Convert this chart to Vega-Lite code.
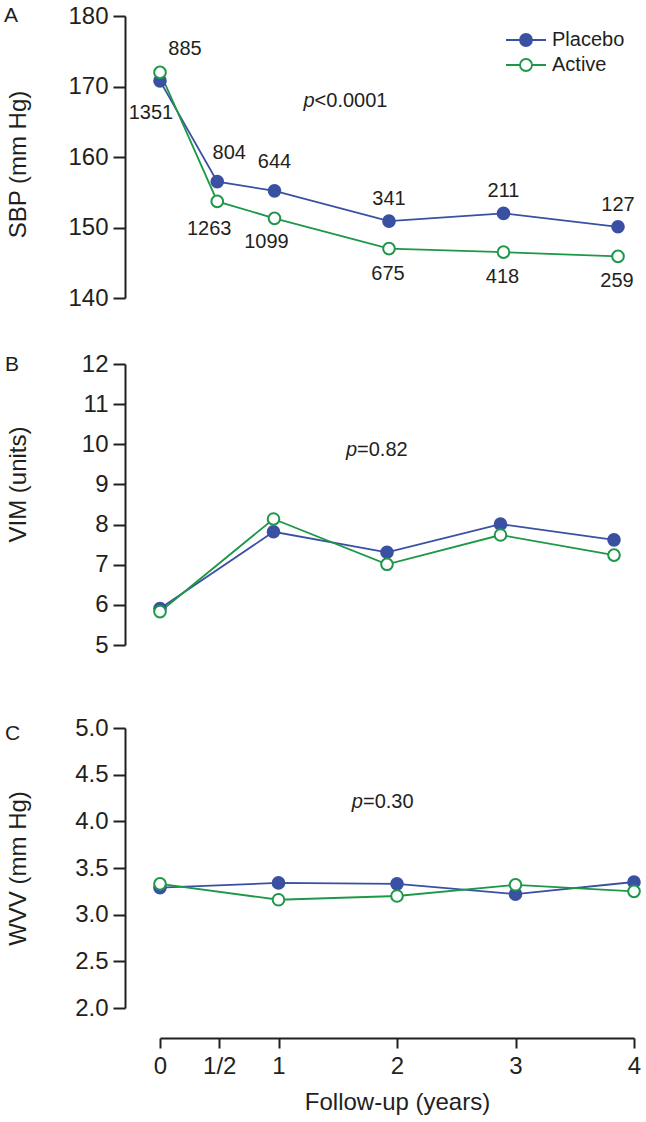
{
  "$schema": "https://vega.github.io/schema/vega-lite/v6.json",
  "autosize": {"type": "pad"},
  "padding": {"left": 4, "top": 4, "right": 5, "bottom": 5},
  "background": "white",
  "datasets": {
    "sbp": [
      {"year": 0, "group": "Placebo", "v": 170.8, "n": 885},
      {"year": 0.5, "group": "Placebo", "v": 156.5, "n": 804},
      {"year": 1, "group": "Placebo", "v": 155.2, "n": 644},
      {"year": 2, "group": "Placebo", "v": 150.9, "n": 341},
      {"year": 3, "group": "Placebo", "v": 152.0, "n": 211},
      {"year": 4, "group": "Placebo", "v": 150.1, "n": 127},
      {"year": 0, "group": "Active", "v": 172.0, "n": 1351},
      {"year": 0.5, "group": "Active", "v": 153.7, "n": 1263},
      {"year": 1, "group": "Active", "v": 151.3, "n": 1099},
      {"year": 2, "group": "Active", "v": 147.0, "n": 675},
      {"year": 3, "group": "Active", "v": 146.5, "n": 418},
      {"year": 4, "group": "Active", "v": 145.9, "n": 259}
    ],
    "vim": [
      {"year": 0, "group": "Placebo", "v": 5.91},
      {"year": 1, "group": "Placebo", "v": 7.82},
      {"year": 2, "group": "Placebo", "v": 7.31},
      {"year": 3, "group": "Placebo", "v": 8.01},
      {"year": 4, "group": "Placebo", "v": 7.62},
      {"year": 0, "group": "Active", "v": 5.83},
      {"year": 1, "group": "Active", "v": 8.14},
      {"year": 2, "group": "Active", "v": 7.01},
      {"year": 3, "group": "Active", "v": 7.74},
      {"year": 4, "group": "Active", "v": 7.24}
    ],
    "wvv": [
      {"year": 0, "group": "Placebo", "v": 3.29},
      {"year": 1, "group": "Placebo", "v": 3.34},
      {"year": 2, "group": "Placebo", "v": 3.33},
      {"year": 3, "group": "Placebo", "v": 3.22},
      {"year": 4, "group": "Placebo", "v": 3.35},
      {"year": 0, "group": "Active", "v": 3.33},
      {"year": 1, "group": "Active", "v": 3.16},
      {"year": 2, "group": "Active", "v": 3.20},
      {"year": 3, "group": "Active", "v": 3.32},
      {"year": 4, "group": "Active", "v": 3.25}
    ]
  },
  "resolve": {
    "scale": {"color": "independent", "fill": "independent"},
    "legend": {"color": "independent", "fill": "independent"}
  },
  "spacing": 66,
  "bounds": "flush",
  "vconcat": [
    {
      "width": 458,
      "height": 282,
      "data": {"name": "sbp"},
      "layer": [
        {
          "encoding": {
            "x": {"field": "year", "type": "quantitative", "scale": {"domain": [0, 4], "nice": false}, "axis": null},
            "y": {"field": "v", "type": "quantitative", "scale": {"domain": [140, 180], "nice": false, "zero": false},
                  "axis": {"title": "SBP (mm Hg)", "values": [140, 150, 160, 170, 180], "titleY": 148}}
          },
          "layer": [
            {
              "mark": {"type": "line", "strokeWidth": 1.8},
              "encoding": {
                "color": {"field": "group", "type": "nominal", "title": null,
                  "scale": {"domain": ["Placebo", "Active"], "range": ["#3a50a2", "#1d9748"]},
                  "legend": {"title": null, "orient": "none", "legendX": 356, "legendY": 14, "symbolType": "M-3.33,0L-1,0M1,0L3.33,0M-1,0A1,1,0,1,1,1,0A1,1,0,1,1,-1,0Z", "symbolSize": 144, "symbolStrokeWidth": 1.8, "symbolOpacity": 1, "labelFontSize": 20, "labelFont": "Liberation Sans", "labelColor": "#231f20", "labelOffset": 16, "rowPadding": 5, "padding": 0}}
              }
            },
            {
              "mark": {"type": "point", "shape": "circle", "size": 135, "strokeWidth": 2, "filled": false, "opacity": 1},
              "encoding": {
                "color": {"field": "group", "type": "nominal", "title": null,
                  "scale": {"domain": ["Placebo", "Active"], "range": ["#3a50a2", "#1d9748"]},
                  "legend": {"title": null, "orient": "none", "legendX": 356, "legendY": 14, "symbolType": "M-3.33,0L-1,0M1,0L3.33,0M-1,0A1,1,0,1,1,1,0A1,1,0,1,1,-1,0Z", "symbolSize": 144, "symbolStrokeWidth": 1.8, "symbolOpacity": 1, "labelFontSize": 20, "labelFont": "Liberation Sans", "labelColor": "#231f20", "labelOffset": 16, "rowPadding": 5, "padding": 0}},
                "fill": {"field": "group", "type": "nominal", "title": null,
                  "scale": {"domain": ["Placebo", "Active"], "range": ["#3a50a2", "#ffffff"]},
                  "legend": {"title": null, "orient": "none", "legendX": 356, "legendY": 14, "symbolType": "M-3.33,0L-1,0M1,0L3.33,0M-1,0A1,1,0,1,1,1,0A1,1,0,1,1,-1,0Z", "symbolSize": 144, "symbolStrokeWidth": 1.8, "symbolOpacity": 1, "labelFontSize": 20, "labelFont": "Liberation Sans", "labelColor": "#231f20", "labelOffset": 16, "rowPadding": 5, "padding": 0}}
              }
            },
            {
              "transform": [{"filter": "datum.group == 'Placebo' && datum.year == 0"}],
              "mark": {"type": "text", "dx": 25, "dy": -32, "fontSize": 20, "color": "#231f20"},
              "encoding": {"text": {"field": "n", "type": "quantitative"}}
            },
            {
              "transform": [{"filter": "datum.group == 'Placebo' && datum.year == 0.5"}],
              "mark": {"type": "text", "dx": 12, "dy": -29, "fontSize": 20, "color": "#231f20"},
              "encoding": {"text": {"field": "n", "type": "quantitative"}}
            },
            {
              "transform": [{"filter": "datum.group == 'Placebo' && datum.year == 1"}],
              "mark": {"type": "text", "dx": 0, "dy": -29, "fontSize": 20, "color": "#231f20"},
              "encoding": {"text": {"field": "n", "type": "quantitative"}}
            },
            {
              "transform": [{"filter": "datum.group == 'Placebo' && datum.year >= 2"}],
              "mark": {"type": "text", "dx": 0, "dy": -22, "fontSize": 20, "color": "#231f20"},
              "encoding": {"text": {"field": "n", "type": "quantitative"}}
            },
            {
              "transform": [{"filter": "datum.group == 'Active' && datum.year == 0"}],
              "mark": {"type": "text", "dx": -9, "dy": 41, "fontSize": 20, "color": "#231f20"},
              "encoding": {"text": {"field": "n", "type": "quantitative"}}
            },
            {
              "transform": [{"filter": "datum.group == 'Active' && datum.year == 0.5"}],
              "mark": {"type": "text", "dx": -8, "dy": 28, "fontSize": 20, "color": "#231f20"},
              "encoding": {"text": {"field": "n", "type": "quantitative"}}
            },
            {
              "transform": [{"filter": "datum.group == 'Active' && datum.year == 1"}],
              "mark": {"type": "text", "dx": -8, "dy": 24, "fontSize": 20, "color": "#231f20"},
              "encoding": {"text": {"field": "n", "type": "quantitative"}}
            },
            {
              "transform": [{"filter": "datum.group == 'Active' && datum.year >= 2"}],
              "mark": {"type": "text", "dx": -1, "dy": 25, "fontSize": 20, "color": "#231f20"},
              "encoding": {"text": {"field": "n", "type": "quantitative"}}
            }
          ]
        },
        {
          "data": {"values": [{"t": "A"}]},
          "mark": {"type": "text", "align": "left", "baseline": "alphabetic", "dy": 6, "fontSize": 21, "color": "#231f20"},
          "encoding": {
            "x": {"datum": -1.362, "type": "quantitative", "axis": null},
            "y": {"datum": 180, "type": "quantitative", "axis": {"title": "SBP (mm Hg)", "values": [140, 150, 160, 170, 180], "titleY": 148}},
            "text": {"field": "t", "type": "nominal"}}
        },
        {
          "data": {"values": [{"t": "p"}]},
          "mark": {"type": "text", "fontStyle": "italic", "align": "right", "fontSize": 20, "color": "#231f20"},
          "encoding": {
            "x": {"datum": 1.35, "type": "quantitative", "axis": null},
            "y": {"datum": 167.9, "type": "quantitative", "axis": {"title": "SBP (mm Hg)", "values": [140, 150, 160, 170, 180], "titleY": 148}},
            "text": {"field": "t", "type": "nominal"}}
        },
        {
          "data": {"values": [{"t": "<0.0001"}]},
          "mark": {"type": "text", "align": "left", "fontSize": 20, "color": "#231f20"},
          "encoding": {
            "x": {"datum": 1.35, "type": "quantitative", "axis": null},
            "y": {"datum": 167.9, "type": "quantitative", "axis": {"title": "SBP (mm Hg)", "values": [140, 150, 160, 170, 180], "titleY": 148}},
            "text": {"field": "t", "type": "nominal"}}
        }
      ]
    },
    {
      "spacing": 83,
      "bounds": "flush",
      "vconcat": [
        {
          "width": 454,
          "height": 281,
          "data": {"name": "vim"},
          "layer": [
            {
              "encoding": {
                "x": {"field": "year", "type": "quantitative", "scale": {"domain": [0, 4], "nice": false}, "axis": null},
                "y": {"field": "v", "type": "quantitative", "scale": {"domain": [5, 12], "nice": false, "zero": false},
                      "axis": {"title": "VIM (units)", "values": [5, 6, 7, 8, 9, 10, 11, 12], "titleY": 120}}
              },
              "layer": [
                {
                  "mark": {"type": "line", "strokeWidth": 1.8},
                  "encoding": {
                    "color": {"field": "group", "type": "nominal", "title": null,
                      "scale": {"domain": ["Placebo", "Active"], "range": ["#3a50a2", "#1d9748"]}, "legend": null}
                  }
                },
                {
                  "mark": {"type": "point", "shape": "circle", "size": 135, "strokeWidth": 2, "filled": false, "opacity": 1},
                  "encoding": {
                    "color": {"field": "group", "type": "nominal", "title": null,
                      "scale": {"domain": ["Placebo", "Active"], "range": ["#3a50a2", "#1d9748"]}, "legend": null},
                    "fill": {"field": "group", "type": "nominal", "title": null,
                      "scale": {"domain": ["Placebo", "Active"], "range": ["#3a50a2", "#ffffff"]}, "legend": null}
                  }
                }
              ]
            },
            {
              "data": {"values": [{"t": "B"}]},
              "mark": {"type": "text", "align": "left", "baseline": "alphabetic", "dy": 7, "fontSize": 21, "color": "#231f20"},
              "encoding": {
                "x": {"datum": -1.366, "type": "quantitative", "axis": null},
                "y": {"datum": 12, "type": "quantitative", "axis": {"title": "VIM (units)", "values": [5, 6, 7, 8, 9, 10, 11, 12], "titleY": 120}},
                "text": {"field": "t", "type": "nominal"}}
            },
            {
              "data": {"values": [{"t": "p"}]},
              "mark": {"type": "text", "fontStyle": "italic", "align": "right", "fontSize": 20, "color": "#231f20"},
              "encoding": {
                "x": {"datum": 1.736, "type": "quantitative", "axis": null},
                "y": {"datum": 9.86, "type": "quantitative", "axis": {"title": "VIM (units)", "values": [5, 6, 7, 8, 9, 10, 11, 12], "titleY": 120}},
                "text": {"field": "t", "type": "nominal"}}
            },
            {
              "data": {"values": [{"t": "=0.82"}]},
              "mark": {"type": "text", "align": "left", "fontSize": 20, "color": "#231f20"},
              "encoding": {
                "x": {"datum": 1.736, "type": "quantitative", "axis": null},
                "y": {"datum": 9.86, "type": "quantitative", "axis": {"title": "VIM (units)", "values": [5, 6, 7, 8, 9, 10, 11, 12], "titleY": 120}},
                "text": {"field": "t", "type": "nominal"}}
            }
          ]
        },
        {
          "width": 474,
          "height": 280,
          "data": {"name": "wvv"},
          "layer": [
            {
              "encoding": {
                "x": {"field": "year", "type": "quantitative", "scale": {"domain": [0, 4], "nice": false},
                      "axis": {"title": "Follow-up (years)", "values": [0, 0.5, 1, 2, 3, 4], "labelExpr": "datum.value == 0.5 ? '1/2' : '' + datum.value"}},
                "y": {"field": "v", "type": "quantitative", "scale": {"domain": [2, 5], "nice": false, "zero": false},
                      "axis": {"title": "WVV (mm Hg)", "values": [2, 2.5, 3, 3.5, 4, 4.5, 5], "format": ".1f"}}
              },
              "layer": [
                {
                  "mark": {"type": "line", "strokeWidth": 1.8},
                  "encoding": {
                    "color": {"field": "group", "type": "nominal", "title": null,
                      "scale": {"domain": ["Placebo", "Active"], "range": ["#3a50a2", "#1d9748"]}, "legend": null}
                  }
                },
                {
                  "mark": {"type": "point", "shape": "circle", "size": 135, "strokeWidth": 2, "filled": false, "opacity": 1},
                  "encoding": {
                    "color": {"field": "group", "type": "nominal", "title": null,
                      "scale": {"domain": ["Placebo", "Active"], "range": ["#3a50a2", "#1d9748"]}, "legend": null},
                    "fill": {"field": "group", "type": "nominal", "title": null,
                      "scale": {"domain": ["Placebo", "Active"], "range": ["#3a50a2", "#ffffff"]}, "legend": null}
                  }
                }
              ]
            },
            {
              "data": {"values": [{"t": "C"}]},
              "mark": {"type": "text", "align": "left", "baseline": "alphabetic", "dy": 12, "fontSize": 21, "color": "#231f20"},
              "encoding": {
                "x": {"datum": -1.308, "type": "quantitative", "axis": {"title": "Follow-up (years)", "values": [0, 0.5, 1, 2, 3, 4], "labelExpr": "datum.value == 0.5 ? '1/2' : '' + datum.value"}},
                "y": {"datum": 5, "type": "quantitative", "axis": {"title": "WVV (mm Hg)", "values": [2, 2.5, 3, 3.5, 4, 4.5, 5], "format": ".1f"}},
                "text": {"field": "t", "type": "nominal"}}
            },
            {
              "data": {"values": [{"t": "p"}]},
              "mark": {"type": "text", "fontStyle": "italic", "align": "right", "fontSize": 20, "color": "#231f20"},
              "encoding": {
                "x": {"datum": 1.713, "type": "quantitative", "axis": {"title": "Follow-up (years)", "values": [0, 0.5, 1, 2, 3, 4], "labelExpr": "datum.value == 0.5 ? '1/2' : '' + datum.value"}},
                "y": {"datum": 4.21, "type": "quantitative", "axis": {"title": "WVV (mm Hg)", "values": [2, 2.5, 3, 3.5, 4, 4.5, 5], "format": ".1f"}},
                "text": {"field": "t", "type": "nominal"}}
            },
            {
              "data": {"values": [{"t": "=0.30"}]},
              "mark": {"type": "text", "align": "left", "fontSize": 20, "color": "#231f20"},
              "encoding": {
                "x": {"datum": 1.713, "type": "quantitative", "axis": {"title": "Follow-up (years)", "values": [0, 0.5, 1, 2, 3, 4], "labelExpr": "datum.value == 0.5 ? '1/2' : '' + datum.value"}},
                "y": {"datum": 4.21, "type": "quantitative", "axis": {"title": "WVV (mm Hg)", "values": [2, 2.5, 3, 3.5, 4, 4.5, 5], "format": ".1f"}},
                "text": {"field": "t", "type": "nominal"}}
            }
          ]
        }
      ]
    }
  ],
  "config": {
    "font": "Liberation Sans",
    "view": {"stroke": null},
    "text": {"font": "Liberation Sans", "baseline": "middle"},
    "axis": {
      "grid": false,
      "domainColor": "#231f20",
      "domainWidth": 2,
      "tickColor": "#231f20",
      "tickWidth": 2,
      "labelFont": "Liberation Sans",
      "labelFontSize": 24,
      "labelColor": "#231f20",
      "labelFlush": false,
      "labelOverlap": false,
      "titleFont": "Liberation Sans",
      "titleFontSize": 24,
      "titleFontWeight": "normal",
      "titleColor": "#231f20"
    },
    "axisY": {"offset": 35, "tickSize": 12, "labelPadding": 5, "titleX": -119, "titleBaseline": "top"},
    "axisX": {"offset": 30, "tickSize": 10, "labelPadding": 6, "titlePadding": 12}
  }
}
